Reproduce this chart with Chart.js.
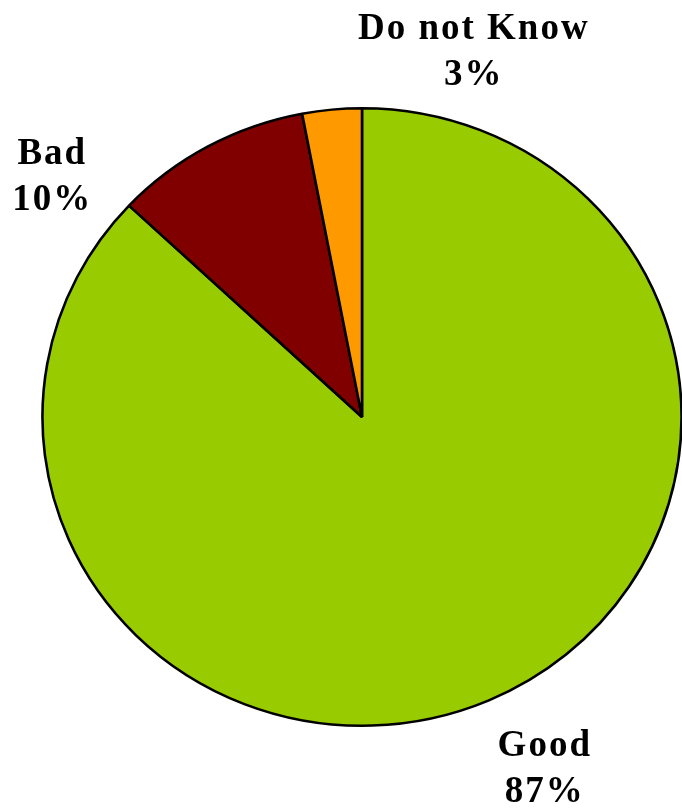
<!DOCTYPE html>
<html>
<head>
<meta charset="utf-8">
<script src="https://cdn.jsdelivr.net/npm/chart.js@4.4.0/dist/chart.umd.min.js"></script>
<style>
    html, body { margin: 0; padding: 0; background: #ffffff; }
    #wrap { width: 682px; height: 808px; }
</style>
</head>
<body>
<div id="wrap"><canvas id="myChart" width="682" height="808"></canvas></div>
<script>
// chart data
const categories = ['Good', 'Bad', 'Do not Know'];
const shares = [87, 10, 3];
const sliceColors = ['#99CC00', '#800000', '#FF9900'];

// where each label sits, relative to the pie centre, in units of the radius
const labelOffsets = [[0.592, 1.14], [-1.003, -0.775], [0.362, -1.18]];

// the original pie is a little wider than it is tall
const stretchX = 1.035;

const stretchPlugin = {
    id: 'stretch',
    beforeDatasetsDraw: function (chart) {
        const arc = chart.getDatasetMeta(0).data[0];
        const ctx = chart.ctx;
        ctx.save();
        ctx.translate(arc.x, 0);
        ctx.scale(stretchX, 1);
        ctx.translate(-arc.x, 0);
    },
    afterDatasetsDraw: function (chart) {
        chart.ctx.restore();
    }
};

const labelPlugin = {
    id: 'sliceLabels',
    afterDraw: function (chart) {
        const ctx = chart.ctx;
        const arcs = chart.getDatasetMeta(0).data;
        ctx.save();
        ctx.fillStyle = '#000000';
        ctx.font = 'bold 37px "Liberation Serif", serif';
        ctx.letterSpacing = '2px';
        ctx.textAlign = 'center';
        ctx.textBaseline = 'middle';
        arcs.forEach(function (arc, i) {
            const r = arc.outerRadius;
            const cx = arc.x + labelOffsets[i][0] * r;
            const cy = arc.y + labelOffsets[i][1] * r;
            ctx.fillText(categories[i], cx, cy - 23);
            ctx.fillText(shares[i] + '%', cx, cy + 23);
        });
        ctx.restore();
    }
};

var ctx = document.getElementById('myChart').getContext('2d');
var myChart = new Chart(ctx, {
    type: 'pie',
    data: {
        labels: categories,
        datasets: [{
            data: shares,
            backgroundColor: sliceColors,
            borderColor: '#000000',
            borderWidth: 2.5,
            borderAlign: 'center'
        }]
    },
    options: {
        responsive: false,
        animation: false,
        layout: {
            padding: { top: 107, bottom: 81, left: 52, right: 10 }
        },
        plugins: {
            legend: { display: false },
            tooltip: { enabled: false }
        }
    },
    plugins: [stretchPlugin, labelPlugin]
});
</script>
</body>
</html>
